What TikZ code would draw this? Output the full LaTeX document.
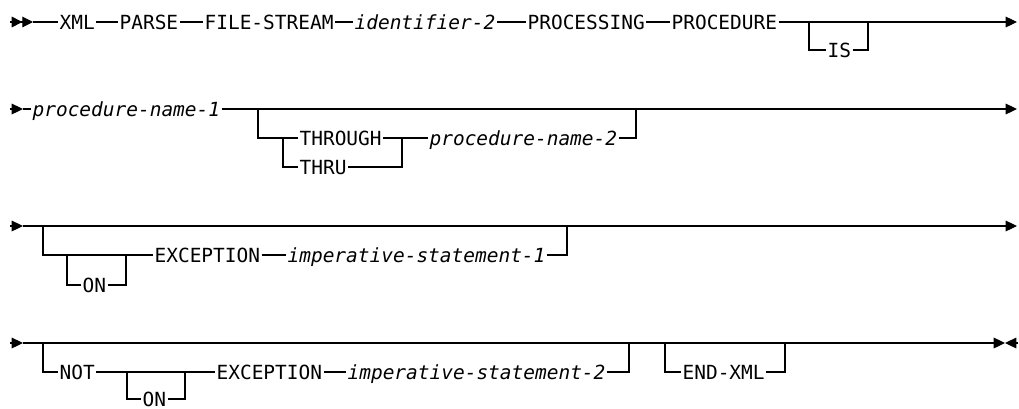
\documentclass[tikz,border=0pt]{standalone}
\usepackage{fontspec}
\usepackage{tikz}
\usetikzlibrary{arrows.meta}
\newfontfamily\railmono{DejaVu Sans Mono}
\newcommand{\railtext}{\fontsize{14.6}{16}\selectfont\railmono}

\begin{document}
\begin{tikzpicture}[x=0.75pt, y=-0.75pt,
          kw/.style={font=\railtext, anchor=west, inner xsep=1pt, inner ysep=0pt,
                     text height=10.6pt, text depth=0pt},
          var/.style={kw, font=\railtext\itshape},
          rail/.style={line width=0.85pt},
          tip/.style={-{Triangle[length=8.5pt, width=8pt]}},
          tiptwo/.style={-{Triangle[length=8pt, width=8pt] Triangle[length=8pt, width=8pt]}}
        ]
        \useasboundingbox (0,0) rectangle (1019,408);

        % Row 1
        \coordinate (r1s) at (10,22);
        \coordinate (r1t) at (33,22);
        \coordinate (r1e) at (1017,22);
        \coordinate (b1) at (809,22);
        \coordinate (b2) at (868,22);
        \node[kw]  (xml)   at (58,22)  {XML};
        \node[kw]  (parse) at (118,22) {PARSE};
        \node[kw]  (fstr)  at (203,22) {FILE-STREAM};
        \node[var] (id2)   at (353,22) {identifier-2};
        \node[kw]  (procg) at (526,22) {PROCESSING};
        \node[kw]  (procd) at (670,22) {PROCEDURE};
        \node[kw]  (is)    at (826,50) {IS};

        \draw[rail, tiptwo] (r1s) -- (r1t);
        \draw[rail] (r1t) -- (xml);
        \draw[rail] (xml) -- (parse);
        \draw[rail] (parse) -- (fstr);
        \draw[rail] (fstr) -- (id2);
        \draw[rail] (id2) -- (procg);
        \draw[rail] (procg) -- (procd);
        \draw[rail, tip] (procd) -- (r1e);
        \draw[rail] (b1) |- (is);
        \draw[rail] (is) -| (b2);

        % Row 2
        \coordinate (r2s) at (10,109);
        \coordinate (r2t) at (23,109);
        \coordinate (r2e) at (1017,109);
        \coordinate (c1) at (258,109);
        \coordinate (c2) at (283,138);
        \coordinate (c3) at (402,138);
        \coordinate (c4) at (636,109);
        \node[var] (pn1)  at (31,109)  {procedure-name-1};
        \node[kw]  (thr)  at (298,138) {THROUGH};
        \node[kw]  (thru) at (298,167) {THRU};
        \node[var] (pn2)  at (428,138) {procedure-name-2};

        \draw[rail, tip] (r2s) -- (r2t);
        \draw[rail] (r2t) -- (pn1);
        \draw[rail, tip] (pn1) -- (r2e);
        \draw[rail] (c1) |- (thr);
        \draw[rail] (c2) |- (thru);
        \draw[rail] (thr) -| (c3);
        \draw[rail] (thru) -| (c3);
        \draw[rail] (c3) -- (pn2);
        \draw[rail] (pn2) -| (c4);

        % Row 3
        \coordinate (r3s) at (10,226);
        \coordinate (r3t) at (23,226);
        \coordinate (r3e) at (1017,226);
        \coordinate (d1) at (43,226);
        \coordinate (d2) at (67,255);
        \coordinate (d3) at (126,255);
        \coordinate (d4) at (567,226);
        \node[kw]  (on1)  at (81,285)  {ON};
        \node[kw]  (exc1) at (153,255) {EXCEPTION};
        \node[var] (imp1) at (286,255) {imperative-statement-1};

        \draw[rail, tip] (r3s) -- (r3t);
        \draw[rail, tip] (r3t) -- (r3e);
        \draw[rail] (d1) |- (exc1);
        \draw[rail] (d2) |- (on1);
        \draw[rail] (on1) -| (d3);
        \draw[rail] (exc1) -- (imp1);
        \draw[rail] (imp1) -| (d4);

        % Row 4
        \coordinate (r4s) at (10,343);
        \coordinate (r4t) at (23,343);
        \coordinate (r4m) at (1005,343);
        \coordinate (r4e) at (1018,343);
        \coordinate (e1) at (43,343);
        \coordinate (e2) at (127,372);
        \coordinate (e3) at (185,372);
        \coordinate (e4) at (629,343);
        \coordinate (e5) at (665,343);
        \coordinate (e6) at (785,343);
        \node[kw]  (not)  at (58,372)  {NOT};
        \node[kw]  (on2)  at (141,399) {ON};
        \node[kw]  (exc2) at (215,372) {EXCEPTION};
        \node[var] (imp2) at (346,372) {imperative-statement-2};
        \node[kw]  (endx) at (681,372) {END-XML};

        \draw[rail, tip] (r4s) -- (r4t);
        \draw[rail, tip] (r4t) -- (r4m);
        \draw[rail, tip] (r4e) -- (r4m);
        \draw[rail] (e1) |- (not);
        \draw[rail] (not) -- (exc2);
        \draw[rail] (e2) |- (on2);
        \draw[rail] (on2) -| (e3);
        \draw[rail] (exc2) -- (imp2);
        \draw[rail] (imp2) -| (e4);
        \draw[rail] (e5) |- (endx);
        \draw[rail] (endx) -| (e6);
      \end{tikzpicture}
\end{document}
